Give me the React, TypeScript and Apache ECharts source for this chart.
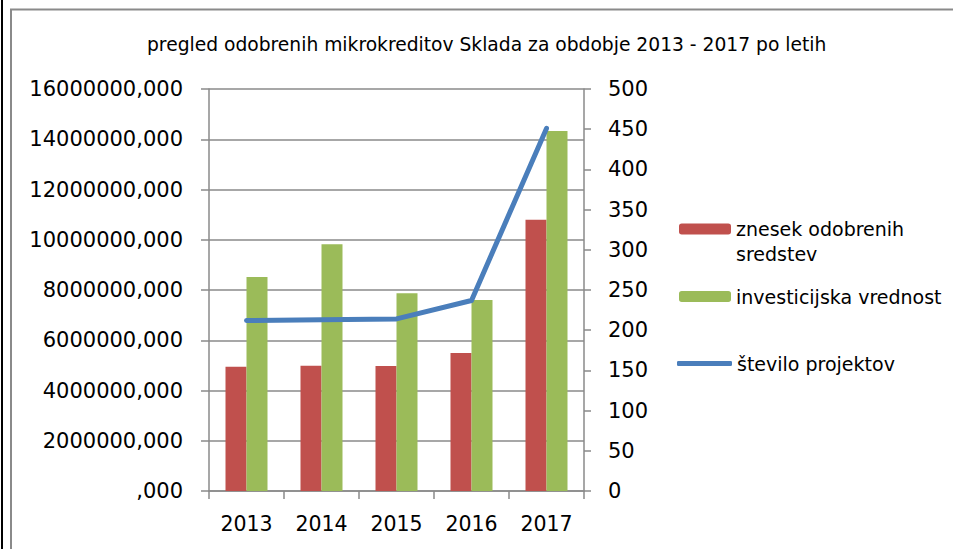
import React, { useEffect, useRef } from "react";
import * as echarts from "echarts";

const titleText = "pregled odobrenih mikrokreditov Sklada za obdobje 2013 - 2017 po letih";
const years = ["2013", "2014", "2015", "2016", "2017"];
const znesek = [4950000, 4990000, 4980000, 5490000, 10800000];
const investicijska = [8520000, 9820000, 7870000, 7600000, 14330000];
const projekti = [212, 213, 214, 237, 451];
const seriesNames = ["znesek odobrenih sredstev", "investicijska vrednost", "število projektov"];

const FONT = "DejaVu Sans";

export default function App() {
  const ref = useRef<HTMLDivElement>(null);
  useEffect(() => {
    if (!ref.current) return;
    const chart = echarts.init(ref.current, null, { renderer: "svg" });
    const gridColor = "#8a8a8a";
    const L = 25;
    chart.setOption({
      animation: false,
      backgroundColor: "#ffffff",
      title: {
        text: titleText,
        left: 147,
        top: 35,
        padding: 0,
        textStyle: { fontFamily: FONT, fontSize: 18.7, fontWeight: "normal", color: "#000" },
      },
      legend: [
        {
          data: [seriesNames[0]],
          orient: "vertical",
          left: 679,
          top: 229 - 1.5 * L,
          padding: 0,
          itemWidth: 52,
          itemHeight: 11,
          itemGap: 0,
          formatter: () => "\nznesek odobrenih\nsredstev",
          textStyle: { fontFamily: FONT, fontSize: 19, color: "#000", lineHeight: L },
        },
        {
          data: [seriesNames[1]],
          orient: "vertical",
          left: 679,
          top: 296.5 - L / 2,
          padding: 0,
          itemWidth: 52,
          itemHeight: 11,
          textStyle: { fontFamily: FONT, fontSize: 19, color: "#000", lineHeight: L },
        },
        {
          data: [{ name: seriesNames[2], icon: "roundRect" }],
          orient: "vertical",
          left: 677,
          top: 363.5 - L / 2,
          padding: 0,
          itemWidth: 55,
          itemHeight: 5,
          textStyle: { fontFamily: FONT, fontSize: 19, color: "#000", lineHeight: L },
        },
      ],
      grid: { left: 209, right: 369, top: 89, bottom: 58, containLabel: false },
      xAxis: {
        type: "category",
        data: years,
        axisLine: { lineStyle: { color: gridColor, width: 1.5 } },
        axisTick: { show: true, length: 8, lineStyle: { color: gridColor, width: 1.5 } },
        axisLabel: { fontFamily: FONT, fontSize: 20.5, color: "#000", margin: 22 },
      },
      yAxis: [
        {
          type: "value",
          min: 0,
          max: 16000000,
          interval: 2000000,
          position: "left",
          axisLine: { show: true, lineStyle: { color: gridColor, width: 1.5 } },
          axisTick: { show: true, length: 8, lineStyle: { color: gridColor, width: 1.5 } },
          splitLine: { show: true, lineStyle: { color: gridColor, width: 1.5 } },
          axisLabel: {
            fontFamily: FONT,
            fontSize: 21,
            color: "#000",
            margin: 26,
            formatter: (v: number) => (v === 0 ? ",000" : `${v},000`),
          },
        },
        {
          type: "value",
          min: 0,
          max: 500,
          interval: 50,
          position: "right",
          axisLine: { show: true, lineStyle: { color: gridColor, width: 1.5 } },
          axisTick: { show: true, length: 7, lineStyle: { color: gridColor, width: 1.5 } },
          splitLine: { show: false },
          axisLabel: { fontFamily: FONT, fontSize: 21, color: "#000", margin: 24 },
        },
      ],
      series: [
        {
          name: seriesNames[0],
          type: "bar",
          data: znesek,
          barWidth: 21,
          barGap: "0%",
          itemStyle: { color: "#C0504D" },
        },
        {
          name: seriesNames[1],
          type: "bar",
          data: investicijska,
          barWidth: 21,
          barGap: "0%",
          itemStyle: { color: "#9BBB59" },
        },
        {
          name: seriesNames[2],
          type: "line",
          yAxisIndex: 1,
          data: projekti,
          showSymbol: false,
          symbol: "none",
          lineStyle: { color: "#4A7EBB", width: 5, cap: "round", join: "round" },
          itemStyle: { color: "#4A7EBB" },
        },
      ],
      graphic: [
        {
          type: "rect",
          shape: { x: 11, y: 9.5, width: 1000, height: 600 },
          style: { fill: "none", stroke: "#8a8a8a", lineWidth: 2 },
          silent: true,
        },
        {
          type: "rect",
          shape: { x: 1, y: 0, width: 2, height: 549 },
          style: { fill: "#000" },
          silent: true,
        },
      ],
    });
    return () => chart.dispose();
  }, []);
  return <div ref={ref} style={{ position: "fixed", left: 0, top: 0, width: 953, height: 549 }} />;
}
